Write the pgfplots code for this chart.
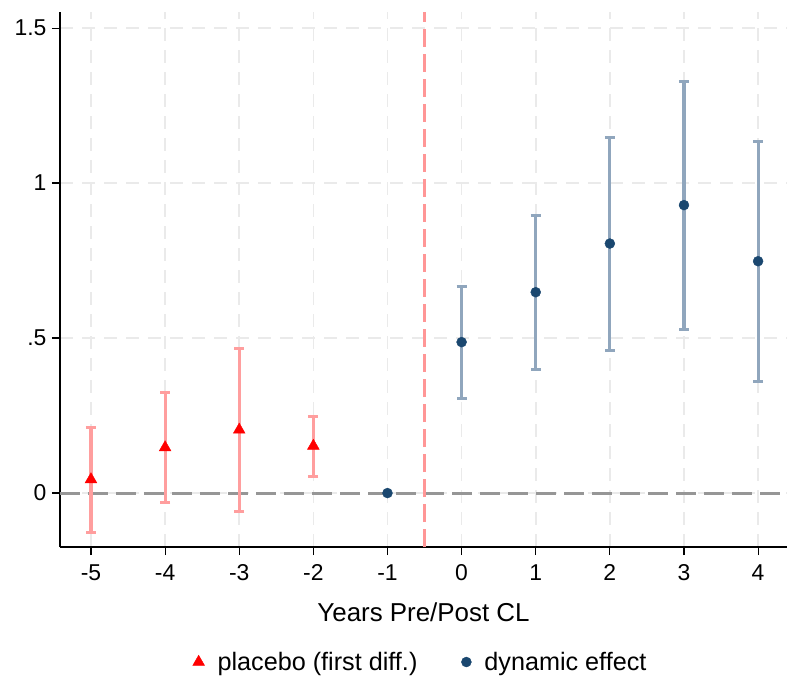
\documentclass[border=0pt]{standalone}
\usepackage{fontspec}
\setmainfont{Liberation Sans}
\usepackage{pgfplots}
\pgfplotsset{compat=1.18}
\usepackage{pgfplotstable}

\definecolor{plred}{RGB}{255,0,0}
\definecolor{plci}{RGB}{255,158,158}
\definecolor{dynnavy}{RGB}{26,71,111}
\definecolor{dynci}{RGB}{144,166,189}
\definecolor{gridgray}{RGB}{234,234,234}
\definecolor{zerogray}{RGB}{150,150,150}
\definecolor{cutred}{RGB}{255,150,150}

% placebo (first difference) estimates with 95% bounds
\pgfplotstableread{
x   y      lo      hi
-5  0.044  -0.126  0.213
-4  0.147  -0.029  0.323
-3  0.204  -0.061  0.468
-2  0.152   0.055  0.248
}\placebo

% dynamic effect estimates with 95% bounds
\pgfplotstableread{
x   y      lo     hi
0   0.487  0.306  0.668
1   0.648  0.400  0.897
2   0.805  0.461  1.148
3   0.929  0.529  1.329
4   0.748  0.361  1.135
}\dynamic

% reference year (normalised to zero)
\pgfplotstableread{
x   y
-1  0
}\baseyear

\begin{document}
\begin{tikzpicture}
\useasboundingbox (-60bp,-129bp) rectangle (727bp,547bp);
\begin{axis}[
  scale only axis,
  width=727bp, height=535bp,
  xmin=-5.418, xmax=4.39,
  ymin=-0.174, ymax=1.552,
  axis lines*=left,
  axis line style={black, line width=1.3bp},
  xtick={-5,-4,-3,-2,-1,0,1,2,3,4},
  xticklabels={-5,-4,-3,-2,-1,0,1,2,3,4},
  ytick={0,0.5,1,1.5},
  yticklabels={0,.5,1,1.5},
  tick align=outside,
  major tick length=8bp,
  tick style={black, line width=1.2bp},
  ticklabel style={font=\fontsize{23}{27}\selectfont},
  xticklabel style={yshift=-6bp},
  yticklabel style={xshift=-2bp},
  grid=major,
  major grid style={gridgray, line width=1.6bp, dash pattern=on 13bp off 9bp},
  xlabel={Years Pre/Post CL},
  xlabel style={font=\fontsize{26}{30}\selectfont, at={(axis description cs:0.5,-0.14)}, anchor=base},
  legend columns=2,
  legend cell align=left,
  legend style={at={(axis description cs:0.496,-0.215)}, anchor=center,
    draw=none, fill=none, font=\fontsize{25.3}{30}\selectfont,
    /tikz/every odd column/.append style={column sep=11bp},
    /tikz/every even column/.append style={column sep=42bp}},
  clip=false,
]
% zero line and treatment cut-off
\addplot[zerogray, line width=3bp, dash pattern=on 20bp off 8bp, forget plot]
  coordinates {(-5.418,0) (4.39,0)};
\addplot[cutred, line width=3bp, dash pattern=on 18bp off 7bp, forget plot]
  coordinates {(-0.5,-0.174) (-0.5,1.552)};

% confidence intervals
\addplot[only marks, mark=none, forget plot,
  error bars/.cd, y dir=both, y explicit,
  error bar style={plci, line width=3.2bp},
  error mark options={plci, line width=3bp, mark size=5bp, rotate=90}]
  table[x=x, y=y, y error plus expr=\thisrow{hi}-\thisrow{y},
        y error minus expr=\thisrow{y}-\thisrow{lo}] {\placebo};
\addplot[only marks, mark=none, forget plot,
  error bars/.cd, y dir=both, y explicit,
  error bar style={dynci, line width=3.2bp},
  error mark options={dynci, line width=3bp, mark size=5bp, rotate=90}]
  table[x=x, y=y, y error plus expr=\thisrow{hi}-\thisrow{y},
        y error minus expr=\thisrow{y}-\thisrow{lo}] {\dynamic};

% point estimates
\addplot[only marks, mark=triangle*, mark size=6.8bp, color=plred]
  table[x=x, y=y] {\placebo};
\addlegendentry{placebo (first diff.)}
\addplot[only marks, mark=*, mark size=5bp, color=dynnavy]
  table[x=x, y=y] {\dynamic};
\addlegendentry{dynamic effect}
\addplot[only marks, mark=*, mark size=5bp, color=dynnavy, forget plot]
  table[x=x, y=y] {\baseyear};
\end{axis}
\end{tikzpicture}
\end{document}
